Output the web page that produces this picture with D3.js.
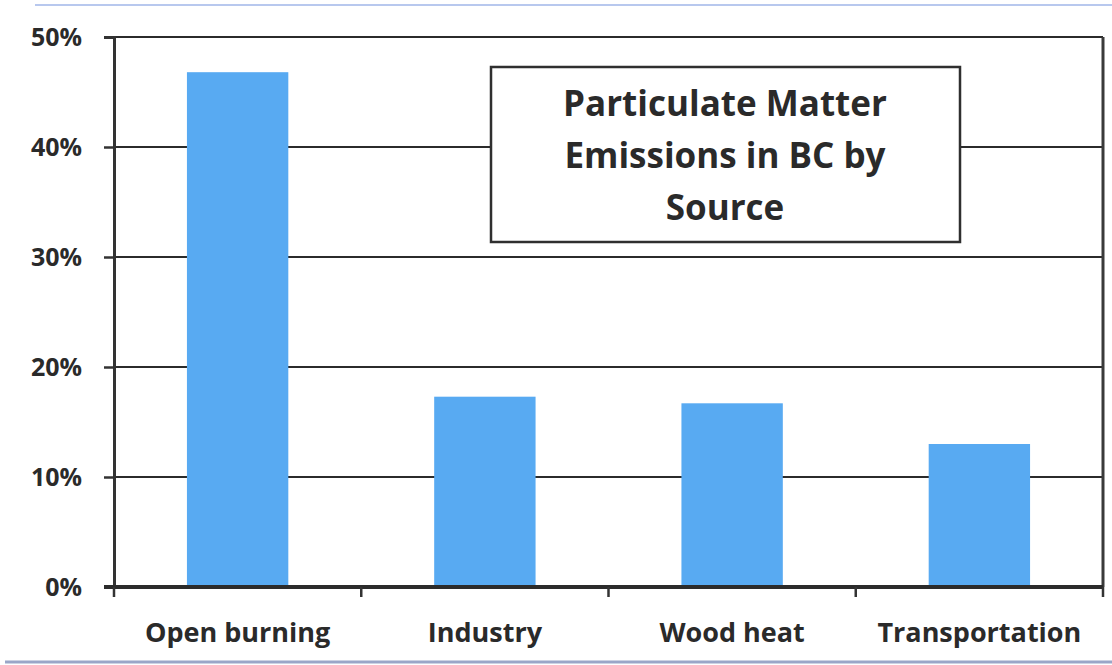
<!DOCTYPE html>
<html>
<head>
<meta charset="utf-8">
<script src="https://cdn.jsdelivr.net/npm/d3@7"></script>
<style>
  body { margin: 0; background: #fff; }
  text { font-family: "Open Sans", Lato, sans-serif; font-weight: bold; fill: #2a2a2a; }
</style>
</head>
<body>
<script>
// data
var categories = ["Open burning", "Industry", "Wood heat", "Transportation"];
var shares = [46.8, 17.3, 16.7, 13.0];
var yTicks = [0, 10, 20, 30, 40, 50];
var titleLines = ["Particulate Matter", "Emissions in BC by", "Source"];

var W = 1112, H = 665;
var margin = {top: 37, right: 9, bottom: 78, left: 114},
    width = W - margin.left - margin.right,
    height = H - margin.top - margin.bottom;

var svg = d3.select("body").append("svg")
    .attr("width", W)
    .attr("height", H);

// faint scan lines top / bottom
svg.append("line").attr("x1", 35).attr("x2", 1112).attr("y1", 5).attr("y2", 5)
    .attr("stroke", "#b8c8ee").attr("stroke-width", 2);
svg.append("line").attr("x1", 5).attr("x2", 1112).attr("y1", 662).attr("y2", 662)
    .attr("stroke", "#9aa6c8").attr("stroke-width", 3);

var g = svg.append("g")
    .attr("transform", "translate(" + margin.left + "," + margin.top + ")");

var xScale = d3.scaleBand()
    .domain(categories)
    .range([0, width])
    .paddingInner(0.59)
    .paddingOuter(0.295);

var yScale = d3.scaleLinear()
    .domain([0, 50])
    .range([height, 0]);

// gridlines
g.selectAll(".grid")
    .data(yTicks.filter(function (d) { return d > 0; }))
    .enter().append("line")
    .attr("class", "grid")
    .attr("x1", 0).attr("x2", width)
    .attr("y1", function (d) { return yScale(d); })
    .attr("y2", function (d) { return yScale(d); })
    .attr("stroke", "#2b2b2b")
    .attr("stroke-width", 2);

// right border
g.append("line")
    .attr("x1", width).attr("x2", width)
    .attr("y1", 0).attr("y2", height)
    .attr("stroke", "#3a3a3a").attr("stroke-width", 3);

// bars
g.selectAll(".bar")
    .data(shares)
    .enter().append("rect")
    .attr("class", "bar")
    .attr("x", function (d, i) { return xScale(categories[i]); })
    .attr("width", xScale.bandwidth())
    .attr("y", function (d) { return yScale(d); })
    .attr("height", function (d) { return height - yScale(d); })
    .attr("fill", "#58aaf2");

// y axis
var yAxis = g.append("g")
    .call(d3.axisLeft(yScale).tickValues(yTicks).tickSize(10).tickPadding(22)
        .tickFormat(function (d) { return d + "%"; }));
yAxis.select(".domain").attr("stroke", "#333").attr("stroke-width", 3);
yAxis.selectAll(".tick line").attr("stroke", "#333").attr("stroke-width", 2.5);
yAxis.selectAll(".tick text").style("font-size", "25px").attr("fill", "#2a2a2a");

// x axis: ticks at category boundaries
var xAxisG = g.append("g")
    .attr("transform", "translate(0," + height + ")");
xAxisG.append("line")
    .attr("x1", -10).attr("x2", width)
    .attr("stroke", "#2b2b2b").attr("stroke-width", 4);
var step = xScale.step();
xAxisG.selectAll(".xt")
    .data(d3.range(categories.length + 1))
    .enter().append("line")
    .attr("class", "xt")
    .attr("x1", function (i) { return i < categories.length ? xScale(categories[i]) - xScale.paddingInner() * step / 2 : width; })
    .attr("x2", function (i) { return i < categories.length ? xScale(categories[i]) - xScale.paddingInner() * step / 2 : width; })
    .attr("y1", 0).attr("y2", 10)
    .attr("stroke", "#333").attr("stroke-width", 2.5);
xAxisG.selectAll(".xl")
    .data(categories)
    .enter().append("text")
    .attr("class", "xl")
    .attr("x", function (d) { return xScale(d) + xScale.bandwidth() / 2; })
    .attr("y", 55)
    .attr("text-anchor", "middle")
    .style("font-size", "27px")
    .text(function (d) { return d; });

// title box
var tb = svg.append("g");
tb.append("rect")
    .attr("x", 491).attr("y", 67)
    .attr("width", 469).attr("height", 175)
    .attr("fill", "#fff")
    .attr("stroke", "#2f2f2f").attr("stroke-width", 2.5);
tb.selectAll(".tl")
    .data(titleLines)
    .enter().append("text")
    .attr("class", "tl")
    .attr("x", 725)
    .attr("y", function (d, i) { return 116 + i * 52; })
    .attr("text-anchor", "middle")
    .style("font-size", "35px")
    .text(function (d) { return d; });
</script>
</body>
</html>
